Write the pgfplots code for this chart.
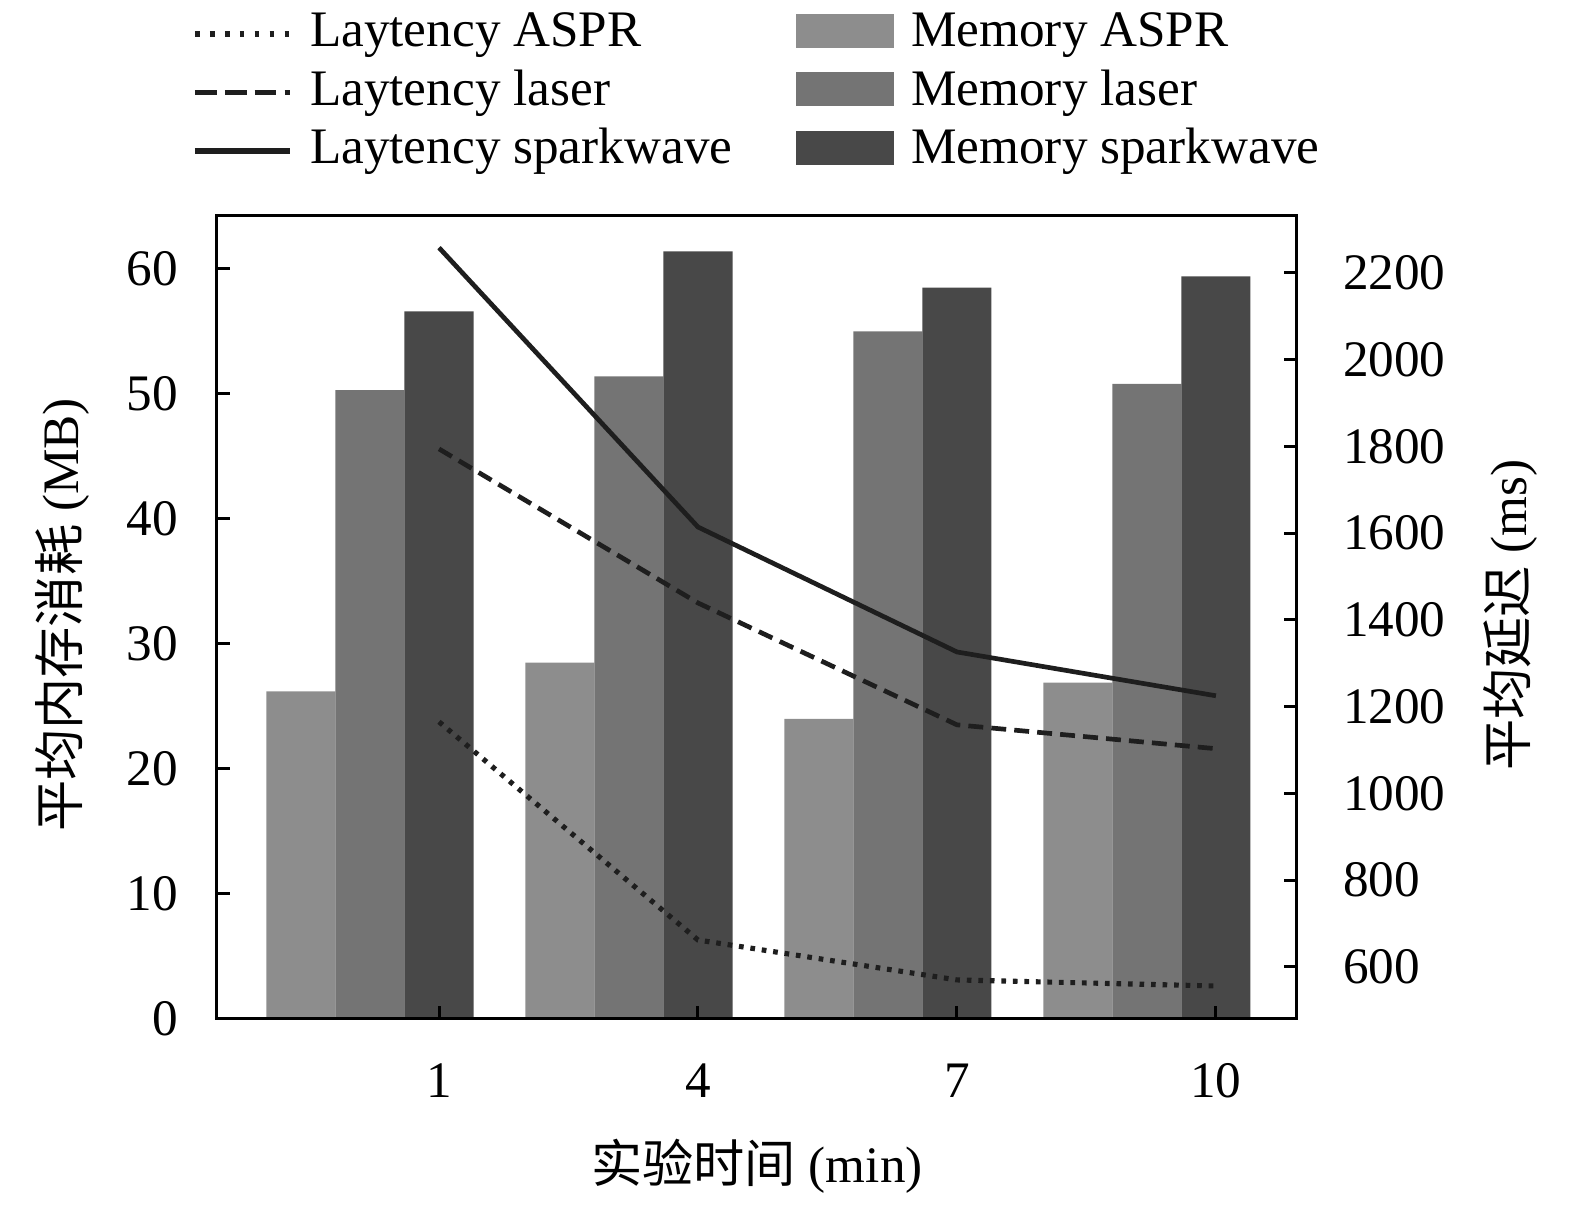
\documentclass[border=0pt,12pt]{standalone}
\usepackage{fontspec}
\setmainfont{Liberation Serif}
\newfontfamily\cjk{Noto Sans CJK SC}
\usepackage{pgfplots}
\pgfplotsset{compat=1.18}

\definecolor{cA}{HTML}{8D8D8D}
\definecolor{cL}{HTML}{747474}
\definecolor{cS}{HTML}{484848}
\definecolor{ln}{HTML}{1E1E1E}

\pgfplotsset{
  barleg/.style={legend image code/.code={\fill[##1] (0pt,-2.73pt) rectangle (23pt,5.24pt);}},
  common/.style={
    at={(50.86pt,43.60pt)}, anchor=south west,
    scale only axis, width=253.15pt, height=188.22pt,
    xmin=-1.572, xmax=10.939,
    axis line style={line width=0.7pt},
    major tick style={line width=0.7pt, black},
    major tick length=3.1pt,
    tick align=inside,
    /pgf/number format/assume math mode=true,
    /pgf/number format/set thousands separator={},
    ticklabel style={font=\fontsize{12}{14}\selectfont},
    label style={font=\fontsize{12}{14}\selectfont},
  },
}

\begin{document}
\begin{tikzpicture}
\useasboundingbox (0,0) rectangle (369.18pt,282.45pt);
\begin{axis}[common,
  axis on top,
  ymin=0, ymax=64.24,
  ytick={0,10,...,60},
  xtick={1,4,7,10},
  xtick pos=bottom, ytick pos=left,
  yticklabel style={inner sep=0pt, xshift=-9.0pt, anchor=east},
  xticklabel style={inner sep=0pt, yshift=-10.3pt, anchor=north},
  xlabel={{\cjk 实验时间} (min)},
  ylabel={{\cjk 平均内存消耗} (MB)},
  x label style={at={(axis description cs:0.5,-0.184)}, anchor=center, inner sep=0pt},
  y label style={at={(axis description cs:-0.1435,0.503)}, anchor=center, inner sep=0pt},
]
\addplot[ybar, bar width=0.8, bar shift=0pt, fill=cA, draw=none] coordinates {(-0.6,26.2) (2.4,28.5) (5.4,24.0) (8.4,26.9)};
\addplot[ybar, bar width=0.8, bar shift=0pt, fill=cL, draw=none] coordinates {(0.2,50.3) (3.2,51.4) (6.2,55.0) (9.2,50.8)};
\addplot[ybar, bar width=0.8, bar shift=0pt, fill=cS, draw=none] coordinates {(1,56.6) (4,61.4) (7,58.5) (10,59.4)};
\end{axis}
\begin{axis}[common,
  ymin=480, ymax=2331,
  ytick={600,800,...,2200},
  xtick=\empty,
  ytick pos=right, yticklabel pos=right,
  yticklabel style={inner sep=0pt, xshift=10.6pt, anchor=west},
  ylabel={{\cjk 平均延迟} (ms)},
  y label style={at={(axis description cs:1.198,0.503)}, anchor=center, inner sep=0pt},
  legend columns=2,
  legend cell align=left,
  legend style={at={(axis description cs:-0.02315,1.2556)}, anchor=north west,
    draw=none, fill=none, inner sep=0pt, outer sep=0pt,
    row sep=1.71pt, column sep=4.0pt,
    nodes={inner sep=0pt, text height=8.5pt, text depth=3.5pt, font=\fontsize{12}{14}\selectfont},
    /tikz/every even column/.append style={column sep=14.96pt}},
]
\addplot[ln, line width=1.2pt, dash pattern=on 1.1pt off 1.6pt,
  legend image code/.code={\draw[ln, line width=1.3pt, dash pattern=on 1.1pt off 2.4pt] (0pt,0.55pt) -- (22.3pt,0.55pt);}]
  coordinates {(1,1165) (4,662) (7,570) (10,556)};
\addlegendentry{Laytency ASPR}
\addlegendimage{barleg, fill=cA, draw=none}
\addlegendentry{Memory ASPR}
\addplot[ln, line width=1.1pt, dash pattern=on 3.5pt off 1.9pt,
  legend image code/.code={\draw[ln, line width=1.3pt, dash pattern=on 5.1pt off 1.9pt] (0pt,0.55pt) -- (22.3pt,0.55pt);}]
  coordinates {(1,1794) (4,1439) (7,1158) (10,1103)};
\addlegendentry{Laytency laser}
\addlegendimage{barleg, fill=cL, draw=none}
\addlegendentry{Memory laser}
\addplot[ln, line width=1.1pt,
  legend image code/.code={\draw[ln, line width=1.4pt] (0pt,0.55pt) -- (22.3pt,0.55pt);}]
  coordinates {(1,2258) (4,1614) (7,1326) (10,1225)};
\addlegendentry{Laytency sparkwave}
\addlegendimage{barleg, fill=cS, draw=none}
\addlegendentry{Memory sparkwave}
\end{axis}
\end{tikzpicture}
\end{document}
